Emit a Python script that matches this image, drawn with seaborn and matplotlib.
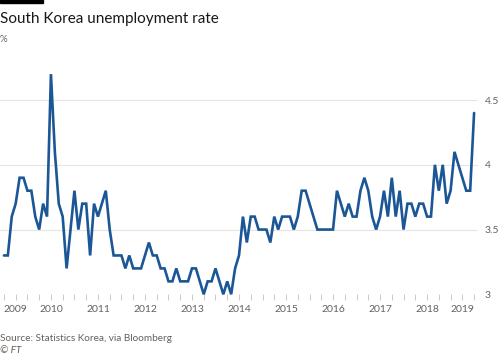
#!/usr/bin/env python3
"""South Korea unemployment rate, monthly, Jan 2009 - Jan 2019 (FT style)."""
import matplotlib
matplotlib.use("Agg")
import matplotlib.pyplot as plt
import numpy as np
import pandas as pd
import seaborn as sns

# Monthly rate (%), Jan 2009 ... Jan 2019
RATE_2009 = [3.3, 3.3, 3.6, 3.7, 3.9, 3.9, 3.8, 3.8, 3.6, 3.5, 3.7, 3.6]
RATE_2010 = [4.7, 4.1, 3.7, 3.6, 3.2, 3.5, 3.8, 3.5, 3.7, 3.7, 3.3, 3.7]
RATE_2011 = [3.6, 3.7, 3.8, 3.5, 3.3, 3.3, 3.3, 3.2, 3.3, 3.2, 3.2, 3.2]
RATE_2012 = [3.3, 3.4, 3.3, 3.3, 3.2, 3.2, 3.1, 3.1, 3.2, 3.1, 3.1, 3.1]
RATE_2013 = [3.2, 3.2, 3.1, 3.0, 3.1, 3.1, 3.2, 3.1, 3.0, 3.1, 3.0, 3.2]
RATE_2014 = [3.3, 3.6, 3.4, 3.6, 3.6, 3.5, 3.5, 3.5, 3.4, 3.6, 3.5, 3.6]
RATE_2015 = [3.6, 3.6, 3.5, 3.6, 3.8, 3.8, 3.7, 3.6, 3.5, 3.5, 3.5, 3.5]
RATE_2016 = [3.5, 3.8, 3.7, 3.6, 3.7, 3.6, 3.6, 3.8, 3.9, 3.8, 3.6, 3.5]
RATE_2017 = [3.6, 3.8, 3.6, 3.9, 3.6, 3.8, 3.5, 3.7, 3.7, 3.6, 3.7, 3.7]
RATE_2018 = [3.6, 3.6, 4.0, 3.8, 4.0, 3.7, 3.8, 4.1, 4.0, 3.9, 3.8, 3.8]
RATE_2019 = [4.4]

YEARS = ["2009", "2010", "2011", "2012", "2013", "2014",
         "2015", "2016", "2017", "2018", "2019"]
Y_TICKS = [3, 3.5, 4, 4.5]
Y_LABELS = ["3", "3.5", "4", "4.5"]

LINE = "#1b5796"
GRID = "#e8e4df"
TEXT = "#66605c"


def main() -> None:
    rate = (RATE_2009 + RATE_2010 + RATE_2011 + RATE_2012 + RATE_2013 + RATE_2014
            + RATE_2015 + RATE_2016 + RATE_2017 + RATE_2018 + RATE_2019)
    df = pd.DataFrame({"month": np.arange(len(rate)), "rate": rate})

    sns.set_theme(style="white")
    plt.rcParams["font.family"] = ["Lato", "DejaVu Sans"]

    fig = plt.figure(figsize=(5, 3.57), dpi=100)
    ax = fig.add_axes([0.0, 0.1756, 0.956, 0.653])

    sns.lineplot(data=df, x="month", y="rate", color=LINE, linewidth=1.9,
                 ax=ax, clip_on=False, solid_joinstyle="miter")

    ax.set_xlim(-1.0, 121.0)
    ax.set_ylim(3.0, 4.8)
    for s in ax.spines.values():
        s.set_visible(False)

    # y axis on the right, gridlines across
    ax.yaxis.tick_right()
    ax.set_yticks(Y_TICKS)
    ax.set_yticklabels(Y_LABELS)
    ax.tick_params(axis="y", length=0, pad=5, labelsize=7.5, labelcolor=TEXT)
    ax.grid(axis="y", color=GRID, linewidth=0.8)
    ax.set_axisbelow(True)

    # x axis: quarterly ticks, labels at each January
    ax.set_xticks(np.arange(0, len(rate), 12))
    ax.set_xticks(np.arange(0, len(rate), 3), minor=True)
    ax.set_xticklabels(YEARS)
    ax.tick_params(axis="x", which="both", length=4.5, width=0.7, color="#cfcac4",
                   bottom=True, direction="out", pad=3, labelsize=7.5,
                   labelcolor=TEXT)
    labels = ax.get_xticklabels()
    labels[0].set_ha("left")
    labels[-1].set_ha("right")

    ax.set_xlabel("")
    ax.set_ylabel("")

    # header / footer
    fig.patches.append(plt.Rectangle((0, 1 - 3 / 357), 43 / 500, 3 / 357,
                                     transform=fig.transFigure, color="black"))
    fig.text(0.0, 1 - 18.5 / 357, "South Korea unemployment rate",
             fontsize=11, color="#1a1817", va="center", ha="left")
    fig.text(0.0, 1 - 40 / 357, "%", fontsize=7, color=TEXT,
             va="center", ha="left")
    fig.text(0.0, 1 - 338.5 / 357, "Source: Statistics Korea, via Bloomberg",
             fontsize=7.2, color=TEXT, va="center", ha="left")
    fig.text(0.0, 1 - 350.5 / 357, "© FT", fontsize=7.2, color=TEXT,
             style="italic", va="center", ha="left")

    fig.savefig("out.png", dpi=100, facecolor="white")
    plt.close(fig)


if __name__ == "__main__":
    main()
